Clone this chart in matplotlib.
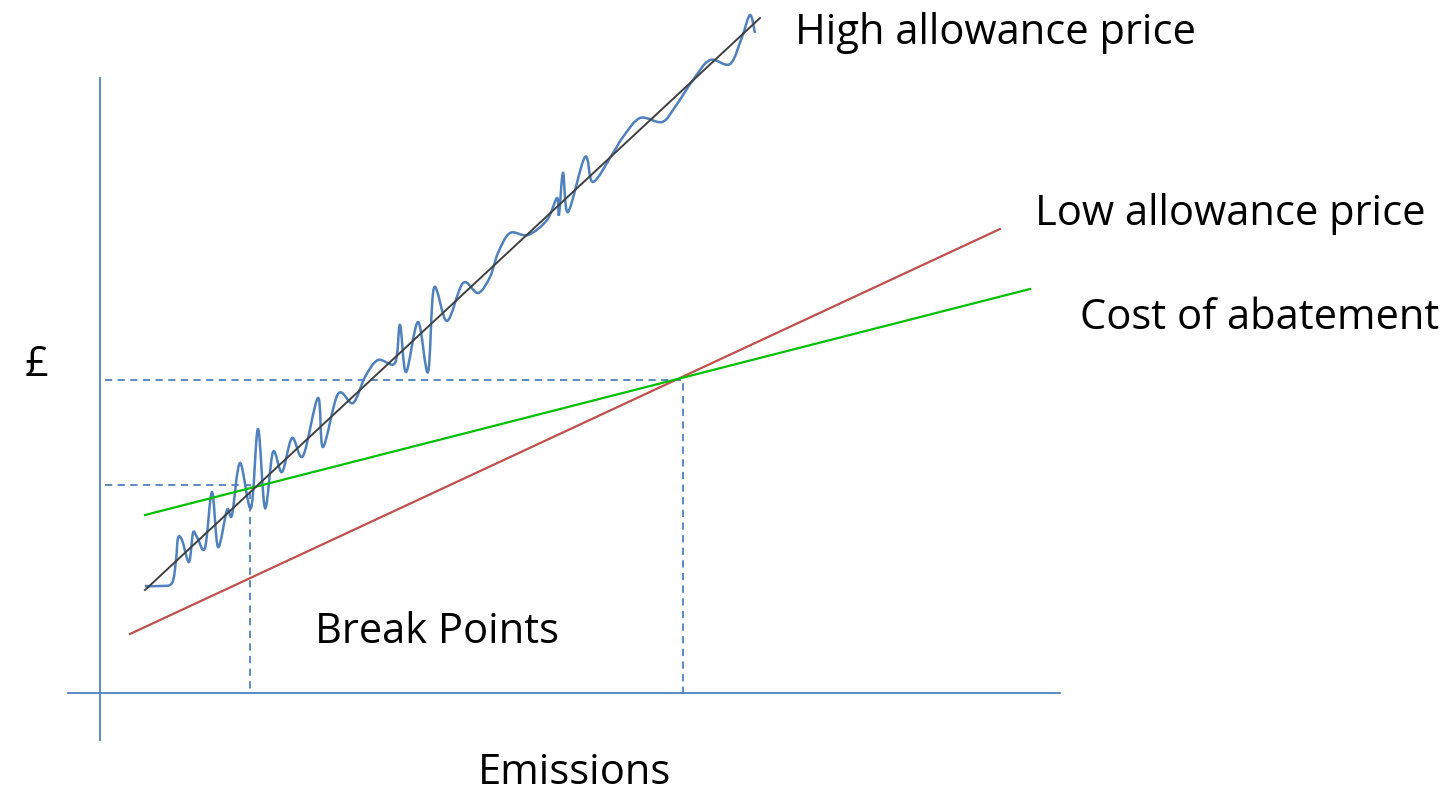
import matplotlib.pyplot as plt
from matplotlib.path import Path
from matplotlib.patches import PathPatch

# Everything is laid out in picture units: x to the right, y downwards.
W, H = 1449, 798

# Axes of the diagram
yAxisX = [100, 100]
yAxisY = [78, 740]
xAxisX = [68, 1060]
xAxisY = [693, 693]

# Straight lines
highX = [145, 760]
highY = [590, 18]
lowX = [130, 1000]
lowY = [634, 229]
costX = [145, 1030]
costY = [515, 289]

wiggleX = [145, 160, 172, 176, 178, 182, 189, 193, 197, 205, 212, 218, 227,
           232, 240, 251, 258, 265, 273, 282, 292, 303, 318, 323, 338, 353,
           365, 378, 395, 400, 406, 418, 428, 434, 447, 463, 478, 490, 498,
           510, 528, 547, 557, 559, 563, 568, 585, 593, 613, 623, 640, 662,
           675, 693, 710, 730, 742, 750, 755]
wiggleY = [586, 586, 583, 560, 538, 540, 562, 533, 537, 548, 492, 547, 510,
           515, 463, 508, 429, 508, 452, 472, 438, 456, 398, 447, 394, 403,
           377, 360, 363, 325, 372, 322, 372, 288, 321, 283, 293, 277, 253,
           233, 235, 220, 198, 215, 173, 212, 157, 182, 153, 137, 118, 122,
           107, 80, 60, 64, 37, 15, 33]

# Dashed guides to the two break points
dash1X = [105, 683, 683]
dash1Y = [380, 380, 695]
dash2X = [105, 250, 250]
dash2Y = [485, 485, 690]

blue = '#4F81BD'
red = '#C0504D'
green = '#00C000'
dark = '#404040'


def smoothPath(xs, ys):
    """Bezier path through the points (Catmull-Rom control points)."""
    pts = list(zip(xs, ys))
    verts = [pts[0]]
    codes = [Path.MOVETO]
    n = len(pts)
    for i in range(n - 1):
        p0 = pts[max(i - 1, 0)]
        p1 = pts[i]
        p2 = pts[i + 1]
        p3 = pts[min(i + 2, n - 1)]
        c1 = (p1[0] + (p2[0] - p0[0]) / 6, p1[1] + (p2[1] - p0[1]) / 6)
        c2 = (p2[0] - (p3[0] - p1[0]) / 6, p2[1] - (p3[1] - p1[1]) / 6)
        verts += [c1, c2, p2]
        codes += [Path.CURVE4] * 3
    return Path(verts, codes)


fig = plt.figure(figsize=(W / 100, H / 100), dpi=100)
ax = fig.add_axes([0, 0, 1, 1])
ax.set_xlim(0, W)
ax.set_ylim(H, 0)
ax.axis('off')

ax.plot(yAxisX, yAxisY, color=blue, lw=1.3)
ax.plot(xAxisX, xAxisY, color=blue, lw=1.3)

ax.plot(dash1X, dash1Y, color=blue, lw=1.3, ls=(0, (4, 3)))
ax.plot(dash2X, dash2Y, color=blue, lw=1.3, ls=(0, (4, 3)))

ax.plot(lowX, lowY, color=red, lw=1.6)
ax.plot(costX, costY, color=green, lw=1.6)
ax.add_patch(PathPatch(smoothPath(wiggleX, wiggleY), facecolor='none',
                       edgecolor=blue, lw=1.8))
ax.plot(highX, highY, color=dark, lw=1.4)

font = 'Open Sans'
size = 30
ax.text(795, 33, 'High allowance price', fontsize=size, family=font,
        ha='left', va='center')
ax.text(1035, 214, 'Low allowance price', fontsize=size, family=font,
        ha='left', va='center')
ax.text(1080, 318, 'Cost of abatement', fontsize=size, family=font,
        ha='left', va='center')
ax.text(25, 365, '£', fontsize=size, family=font, ha='left', va='center')
ax.text(315, 632, 'Break Points', fontsize=size, family=font,
        ha='left', va='center')
ax.text(478, 773, 'Emissions', fontsize=size, family=font,
        ha='left', va='center')

fig.savefig('out.png', dpi=100)
